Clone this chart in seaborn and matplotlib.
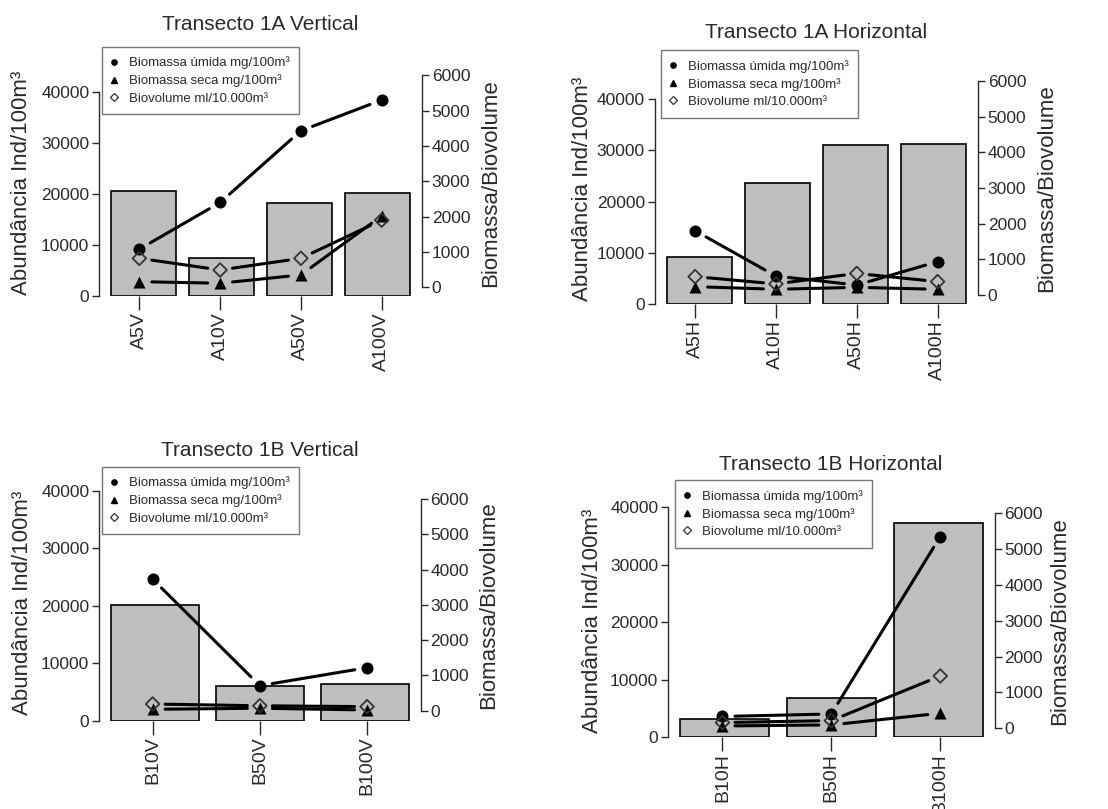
import numpy as np
import matplotlib
matplotlib.use("Agg")
import matplotlib.pyplot as plt
from matplotlib.lines import Line2D
import seaborn as sns

# ---- data -------------------------------------------------------------
cats_1a_v = ["A5V", "A10V", "A50V", "A100V"]
abund_1a_v = [20600, 7500, 18300, 20100]
umida_1a_v = [1080, 2400, 4430, 5300]
seca_1a_v = [160, 115, 350, 2020]
biovol_1a_v = [820, 490, 820, 1900]

cats_1a_h = ["A5H", "A10H", "A50H", "A100H"]
abund_1a_h = [9250, 23600, 31000, 31300]
umida_1a_h = [1800, 530, 280, 935]
seca_1a_h = [235, 160, 215, 160]
biovol_1a_h = [515, 310, 605, 375]

cats_1b_v = ["B10V", "B50V", "B100V"]
abund_1b_v = [20100, 6100, 6400]
umida_1b_v = [3730, 710, 1220]
seca_1b_v = [40, 70, 20]
biovol_1b_v = [190, 140, 115]

cats_1b_h = ["B10H", "B50H", "B100H"]
abund_1b_h = [3200, 6800, 37300]
umida_1b_h = [330, 400, 5350]
seca_1b_h = [65, 95, 420]
biovol_1b_h = [160, 215, 1460]

titles = ["Transecto 1A Vertical", "Transecto 1A Horizontal",
          "Transecto 1B Vertical", "Transecto 1B Horizontal"]
left_label = "Abundância Ind/100m³"
right_label = "Biomassa/Biovolume"
legend_labels = ["Biomassa úmida mg/100m³", "Biomassa seca mg/100m³",
                 "Biovolume ml/10.000m³"]
left_ticks = [0, 10000, 20000, 30000, 40000]
right_ticks = [0, 1000, 2000, 3000, 4000, 5000, 6000]

# ---- layout (pixels on a 1108 x 809 canvas) ---------------------------
W, H = 1108, 809
layout = [
    dict(box=(99, 422, 68, 296), l0=296, l40=91.7, r0=287.3, r6=75.3,
         title=(260.5, 25), ylab_l=(22, 183), ylab_r=(491, 183), leg=(101.7, 46.7)),
    dict(box=(654.7, 978, 74, 304), l0=304, l40=99.3, r0=295, r6=81,
         title=(816, 33), ylab_l=(582, 189), ylab_r=(1047, 188), leg=(660.7, 50)),
    dict(box=(99, 420.7, 487, 720.7), l0=720.7, l40=490.7, r0=710.7, r6=499.1,
         title=(260, 450), ylab_l=(23, 603), ylab_r=(489, 605), leg=(101.7, 466.7)),
    dict(box=(668, 994.7, 505, 737.3), l0=737.3, l40=507.3, r0=728.3, r6=513.3,
         title=(831, 465), ylab_l=(593, 621), ylab_r=(1060, 621), leg=(674.7, 480)),
]

panels = [
    (cats_1a_v, abund_1a_v, umida_1a_v, seca_1a_v, biovol_1a_v),
    (cats_1a_h, abund_1a_h, umida_1a_h, seca_1a_h, biovol_1a_h),
    (cats_1b_v, abund_1b_v, umida_1b_v, seca_1b_v, biovol_1b_v),
    (cats_1b_h, abund_1b_h, umida_1b_h, seca_1b_h, biovol_1b_h),
]

sns.set_theme(style="white")
plt.rcParams["font.family"] = ["Liberation Sans", "DejaVu Sans"]

TXT = "#2a2a2a"
BAR = "#bebebe"
fig = plt.figure(figsize=(W / 100, H / 100), dpi=100)
fig.patch.set_facecolor("white")


def fx(px):
    return px / W


def fy(py):
    return 1 - py / H


def connect(ax, xs, ys, gap=9.0, lw=2.2):
    """Line segments between consecutive points, leaving a gap around each marker."""
    for i in range(len(xs) - 1):
        ax.annotate("", xy=(xs[i + 1], ys[i + 1]), xytext=(xs[i], ys[i]),
                    arrowprops=dict(arrowstyle="-", color="black", lw=lw,
                                    shrinkA=gap, shrinkB=gap))


for (cats, abund, umida, seca, biovol), lay, title in zip(panels, layout, titles):
    x0, x1, yt, yb = lay["box"]
    rect = [fx(x0), fy(yb), fx(x1) - fx(x0), fy(yt) - fy(yb)]
    n = len(cats)

    # bars: abundance on the left axis
    axb = fig.add_axes(rect)
    axb.set_facecolor("none")
    sns.barplot(x=cats, y=abund, ax=axb, color=BAR, saturation=1,
                width=5 / 6, edgecolor="black", linewidth=1.2)
    pad = 0.04 * (n - 1 / 6)
    axb.set_xlim(-5 / 12 - pad, n - 1 + 5 / 12 + pad)
    lscale = 40000 / (lay["l0"] - lay["l40"])
    axb.set_ylim((lay["l0"] - yb) * lscale, (lay["l0"] - yt) * lscale)
    axb.set_xticks([])
    axb.set_yticks(left_ticks)
    axb.set_yticklabels([str(t) for t in left_ticks])
    axb.tick_params(axis="y", left=True, direction="out", length=5, width=1,
                    color=TXT, labelsize=12.5, labelcolor=TXT, pad=2)
    for s in ["top", "right", "bottom"]:
        axb.spines[s].set_visible(False)
    axb.spines["left"].set_bounds(0, 40000)
    axb.spines["left"].set_color(TXT)
    axb.spines["left"].set_linewidth(1)
    axb.set_xlabel("")
    axb.set_ylabel("")

    # points: biomass / biovolume on the right axis
    axp = fig.add_axes(rect)
    axp.set_facecolor("none")
    pos = np.arange(n)
    connect(axp, pos, umida)
    connect(axp, pos, seca)
    connect(axp, pos, biovol)
    sns.scatterplot(x=pos, y=umida, ax=axp, marker="o", s=75, color="black",
                    linewidth=0, zorder=5)
    sns.scatterplot(x=pos, y=seca, ax=axp, marker="^", s=75, color="black",
                    linewidth=0, zorder=5)
    axp.scatter(pos, biovol, marker="D", s=48, facecolors="none",
                edgecolors="#333333", linewidths=1.3, zorder=6)
    axp.set_xlim(-0.5, n - 0.5)
    rscale = 6000 / (lay["r0"] - lay["r6"])
    axp.set_ylim((lay["r0"] - yb) * rscale, (lay["r0"] - yt) * rscale)
    axp.yaxis.tick_right()
    axp.set_yticks(right_ticks)
    axp.set_yticklabels([str(t) for t in right_ticks])
    axp.set_xticks(pos)
    axp.set_xticklabels(cats, rotation=90)
    axp.tick_params(axis="y", right=True, left=False, direction="out", length=5,
                    width=1, color=TXT, labelsize=12.5, labelcolor=TXT, pad=2)
    axp.tick_params(axis="x", bottom=True, direction="out", length=10, width=1,
                    color=TXT, labelsize=14, labelcolor=TXT, pad=1.5)
    for s in ["top", "left", "bottom"]:
        axp.spines[s].set_visible(False)
    axp.spines["right"].set_bounds(0, 6000)
    axp.spines["right"].set_color(TXT)
    axp.spines["right"].set_linewidth(1)
    axp.set_xlabel("")
    axp.set_ylabel("")

    # titles and axis labels
    fig.text(fx(lay["title"][0]), fy(lay["title"][1]), title, ha="center",
             va="center", fontsize=15, color=TXT)
    fig.text(fx(lay["ylab_l"][0]), fy(lay["ylab_l"][1]), left_label, rotation=90,
             ha="center", va="center", fontsize=16, color=TXT)
    fig.text(fx(lay["ylab_r"][0]), fy(lay["ylab_r"][1]), right_label, rotation=90,
             ha="center", va="center", fontsize=16, color=TXT)

    # legend
    handles = [
        Line2D([], [], linestyle="none", marker="o", markersize=3.8,
               color="black"),
        Line2D([], [], linestyle="none", marker="^", markersize=4.5,
               color="black"),
        Line2D([], [], linestyle="none", marker="D", markersize=3.6,
               markerfacecolor="none", markeredgecolor="#333333",
               markeredgewidth=0.9),
    ]
    leg = fig.legend(handles, legend_labels, loc="upper left",
                     bbox_to_anchor=(fx(lay["leg"][0]), fy(lay["leg"][1])),
                     bbox_transform=fig.transFigure, borderaxespad=0,
                     fontsize=9.5, frameon=True, fancybox=False,
                     handlelength=0.4, handletextpad=0.9, labelspacing=0.38,
                     borderpad=0.75)
    leg.get_frame().set_edgecolor("#555555")
    leg.get_frame().set_linewidth(1)
    for t in leg.get_texts():
        t.set_color(TXT)

fig.savefig("out.png", dpi=100, facecolor="white")
